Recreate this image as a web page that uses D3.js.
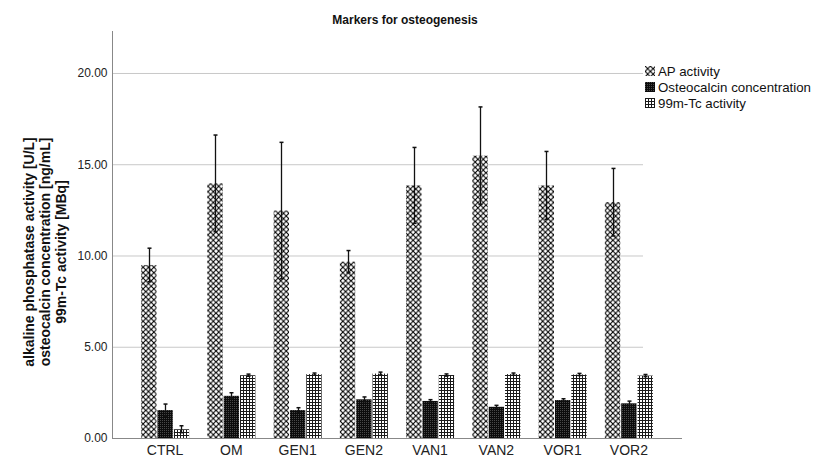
<!DOCTYPE html>
<html>
<head>
<meta charset="utf-8">
<script src="https://cdn.jsdelivr.net/npm/d3@7"></script>
<style>
  html, body { margin: 0; padding: 0; background: #fff; }
  svg { display: block; font-family: "Liberation Sans", Arial, sans-serif; }
</style>
</head>
<body>
<svg id="chart" width="813" height="462"></svg>
<script>
// Groups and measured means with upper error-bar ends
const categories = ["CTRL", "OM", "GEN1", "GEN2", "VAN1", "VAN2", "VOR1", "VOR2"];
const seriesNames = ["AP activity", "Osteocalcin concentration", "99m-Tc activity"];
const apMean   = [9.48, 13.95, 12.46, 9.66, 13.84, 15.47, 13.84, 12.92];
const apUpper  = [10.40, 16.60, 16.20, 10.27, 15.92, 18.14, 15.70, 14.77];
const ocMean   = [1.53, 2.31, 1.53, 2.12, 2.03, 1.71, 2.08, 1.90];
const ocUpper  = [1.86, 2.48, 1.66, 2.25, 2.10, 1.79, 2.15, 2.02];
const tcMean   = [0.48, 3.44, 3.50, 3.53, 3.45, 3.50, 3.48, 3.42];
const tcUpper  = [0.67, 3.50, 3.56, 3.61, 3.51, 3.56, 3.54, 3.48];
const yTicks   = [0, 5, 10, 15, 20];

const svg = d3.select("#chart");
const plot = { left: 112, right: 682, gridRight: 643, top: 31, bottom: 438 };

const y = d3.scaleLinear().domain([0, 22.3]).range([plot.bottom, plot.top]);
const x = d3.scaleBand().domain(categories).range([132, 662]).paddingInner(0).paddingOuter(0);
const xs = d3.scaleBand().domain(seriesNames).range([0, 48]).paddingInner(0.06);

// Fill patterns
const defs = svg.append("defs");
const pAP = defs.append("pattern").attr("id", "pat-ap").attr("patternUnits", "userSpaceOnUse")
  .attr("width", 5.4).attr("height", 5.4);
pAP.append("rect").attr("width", 5.4).attr("height", 5.4).attr("fill", "#fff");
pAP.append("path").attr("d", "M0,0L5.4,5.4M5.4,0L0,5.4")
  .attr("stroke", "#000").attr("stroke-width", 1.1).attr("fill", "none");

const pOC = defs.append("pattern").attr("id", "pat-oc").attr("patternUnits", "userSpaceOnUse")
  .attr("width", 2).attr("height", 2);
pOC.append("rect").attr("width", 2).attr("height", 2).attr("fill", "#0c0c0c");
pOC.append("rect").attr("width", 0.8).attr("height", 0.8).attr("fill", "#6a6a6a");

const pTC = defs.append("pattern").attr("id", "pat-tc").attr("patternUnits", "userSpaceOnUse")
  .attr("width", 3).attr("height", 3);
pTC.append("rect").attr("width", 3).attr("height", 3).attr("fill", "#fff");
pTC.append("path").attr("d", "M0,0.5H3M0.5,0V3").attr("stroke", "#1a1a1a").attr("stroke-width", 1).attr("fill", "none");

const fills = ["url(#pat-ap)", "url(#pat-oc)", "url(#pat-tc)"];

// Gridlines
svg.append("g").selectAll("line").data(yTicks.filter(d => d > 0)).join("line")
  .attr("x1", plot.left).attr("x2", plot.gridRight)
  .attr("y1", d => y(d) + 0.5).attr("y2", d => y(d) + 0.5)
  .attr("stroke", "#c8c8c8").attr("stroke-width", 1);

// Y axis
const yAxis = svg.append("g").attr("transform", `translate(${plot.left + 0.5},0)`)
  .call(d3.axisLeft(y).tickValues(yTicks).tickFormat(d3.format(".2f")).tickSize(0).tickPadding(5));
yAxis.select(".domain").attr("d", `M0,${plot.top}V${plot.bottom}`).attr("stroke", "#888");
yAxis.selectAll("text").attr("font-size", 12).attr("fill", "#222")
  .attr("font-family", "'Liberation Sans', Arial, sans-serif");

// X axis
const xAxis = svg.append("g").attr("transform", `translate(0,${plot.bottom + 0.5})`)
  .call(d3.axisBottom(x).tickSize(0).tickPadding(7));
xAxis.select(".domain").attr("d", `M${plot.left},0H${plot.right}`).attr("stroke", "#888");
xAxis.selectAll("text").attr("font-size", 14).attr("fill", "#222")
  .attr("font-family", "'Liberation Sans', Arial, sans-serif");

// Bars with error bars
const series = [
  { name: seriesNames[0], mean: apMean, upper: apUpper },
  { name: seriesNames[1], mean: ocMean, upper: ocUpper },
  { name: seriesNames[2], mean: tcMean, upper: tcUpper }
];
const groupOffset = (x.bandwidth() - 48) / 2;
series.forEach((s, si) => {
  const g = svg.append("g");
  const rows = categories.map((c, i) => ({ c, m: s.mean[i], u: s.upper[i], l: 2 * s.mean[i] - s.upper[i] }));
  const bx = d => x(d.c) + groupOffset + xs(s.name);
  g.selectAll("rect").data(rows).join("rect")
    .attr("x", bx).attr("width", xs.bandwidth())
    .attr("y", d => y(d.m)).attr("height", d => y(0) - y(d.m))
    .attr("fill", fills[si]);
  const cx = d => Math.round(bx(d) + xs.bandwidth() / 2) + 0.5;
  g.selectAll("line.err").data(rows).join("line").attr("class", "err")
    .attr("x1", cx).attr("x2", cx).attr("y1", d => y(d.u)).attr("y2", d => y(d.l))
    .attr("stroke", "#111").attr("stroke-width", 1.3);
  ["u", "l"].forEach(k => {
    g.selectAll("line.cap" + k).data(rows).join("line").attr("class", "cap" + k)
      .attr("x1", d => cx(d) - 2).attr("x2", d => cx(d) + 2)
      .attr("y1", d => y(d[k])).attr("y2", d => y(d[k]))
      .attr("stroke", "#111").attr("stroke-width", 1.5);
  });
});

// Title
svg.append("text").attr("x", 405).attr("y", 24).attr("text-anchor", "middle")
  .attr("font-size", 12).attr("font-weight", "bold").attr("fill", "#111")
  .text("Markers for osteogenesis");

// Y axis title (three lines)
const yTitle = ["alkaline phosphatase activity [U/L]", "osteocalcin concentration [ng/mL]", "99m-Tc activity [MBq]"];
const yt = svg.append("text").attr("transform", "translate(0,252) rotate(-90)")
  .attr("text-anchor", "middle").attr("font-size", 14).attr("font-weight", "bold").attr("fill", "#111");
yTitle.forEach((t, i) => yt.append("tspan").attr("x", 0).attr("y", 34 + i * 16).text(t));

// Legend
const lg = svg.append("g").attr("transform", "translate(645,66)");
seriesNames.forEach((n, i) => {
  const row = lg.append("g").attr("transform", `translate(0,${i * 16})`);
  row.append("rect").attr("width", 10).attr("height", 10).attr("fill", fills[i]);
  row.append("text").attr("x", 13).attr("y", 10).attr("font-size", 13.3).attr("fill", "#111").text(n);
});
</script>
</body>
</html>
